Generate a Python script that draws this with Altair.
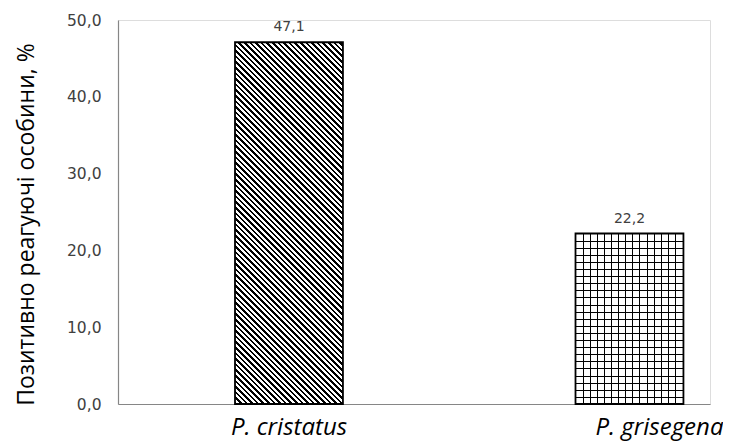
import altair as alt
import pandas as pd

# ---- data ----
species = ["P. cristatus", "P. grisegena"]
values = [47.1, 22.2]
y_ticks = [0, 10, 20, 30, 40, 50]

df = pd.DataFrame({"species": species, "value": values})

# ---- layout ----
W, H = 592, 384
Y_MAX = 50
P_IN, P_OUT, ALIGN = 0.683, 0.2108, 0.815
step = W / (len(species) - P_IN + 2 * P_OUT)
bw = step * (1 - P_IN)


def bar_h(v):
    return v / Y_MAX * H


# diagonal "\\\\" hatch for the first bar (objectBoundingBox gradient)
def diag_gradient(w, h, period=5.6, black=2.6):
    total = w + h
    k_scale = (w + h) * h / (w * w + h * h)
    stops = []
    k = 0
    while k * period < total:
        s0 = k * period
        s1 = s0 + black
        s2 = s0 + period
        t0, t1, t2 = s0 / total, min(s1 / total, 1.0), min(s2 / total, 1.0)
        stops += [
            alt.GradientStop(offset=t0, color="#000000"),
            alt.GradientStop(offset=t1, color="#000000"),
            alt.GradientStop(offset=t1, color="#ffffff"),
            alt.GradientStop(offset=t2, color="#ffffff"),
        ]
        k += 1
    return alt.LinearGradient(gradient="linear", stops=stops,
                              x1=0, y1=1, x2=k_scale * w / h, y2=1 - k_scale)


def line_gradient(length, vertical, period=7.1, lw=1.0):
    clear = "rgba(255,255,255,0)"
    stops = [alt.GradientStop(offset=0, color=clear)]
    k = 1
    while k * period < length - 2:
        a = (k * period) / length
        b = (k * period + lw) / length
        stops += [
            alt.GradientStop(offset=a, color=clear),
            alt.GradientStop(offset=a, color="#000000"),
            alt.GradientStop(offset=b, color="#000000"),
            alt.GradientStop(offset=b, color=clear),
        ]
        k += 1
    stops.append(alt.GradientStop(offset=1, color=clear))
    if vertical:
        return alt.LinearGradient(gradient="linear", stops=stops, x1=0, y1=0, x2=1, y2=0)
    return alt.LinearGradient(gradient="linear", stops=stops, x1=0, y1=0, x2=0, y2=1)


X = alt.X(
    "species:N",
    sort=species,
    scale=alt.Scale(paddingInner=P_IN, paddingOuter=P_OUT, align=ALIGN),
    axis=alt.Axis(
        title=None, ticks=False, domainColor="#868686", domainWidth=1.2,
        labelAngle=0, labelFont="Open Sans", labelFontStyle="italic",
        labelFontSize=24, labelColor="#000000", labelPadding=30,
        labelBaseline="alphabetic",
        labelOffset={"condition": {"test": "datum.value == 'P. grisegena'", "value": 30}, "value": 0},
    ),
)
Y = alt.Y(
    "value:Q",
    scale=alt.Scale(domain=[0, Y_MAX], nice=False),
    axis=alt.Axis(
        values=y_ticks, grid=False, ticks=False, domainColor="#868686", domainWidth=1.2,
        labelExpr="replace(format(datum.value, '.1f'), '.', ',')",
        labelFont="DejaVu Sans", labelFontSize=15.5, labelColor="#404040", labelPadding=17,
        title="Позитивно реагуючі особини, %", titleFont="Open Sans", titleFontSize=23,
        titleFontWeight="normal", titleColor="#000000",
        titleX=-85, titleY=204, titleAngle=270, titleAlign="center", titleBaseline="alphabetic",
    ),
)

base = alt.Chart(df).encode(x=X, y=Y)

bar1 = base.transform_filter(alt.datum.species == species[0]).mark_bar(
    fill=diag_gradient(bw, bar_h(values[0])), stroke="#000000", strokeWidth=1.8
)
bar2v = base.transform_filter(alt.datum.species == species[1]).mark_bar(
    fill=line_gradient(bw, True)
)
bar2h = base.transform_filter(alt.datum.species == species[1]).mark_bar(
    fill=line_gradient(bar_h(values[1]), False), stroke="#000000", strokeWidth=1.8
)
labels = base.transform_calculate(
    lab="replace(format(datum.value, '.1f'), '.', ',')"
).mark_text(dy=-15, font="DejaVu Sans", fontSize=14, color="#404040").encode(text="lab:N")

chart = alt.layer(bar1, bar2v, bar2h, labels).properties(
    width=W, height=H,
    autosize=alt.AutoSizeParams(type="none"),
    padding={"left": 110, "top": 12, "right": 13, "bottom": 38},
).configure_view(stroke=None).configure(background="#ffffff")

chart.save("out.html", embed_options={"renderer": "svg", "actions": False})
